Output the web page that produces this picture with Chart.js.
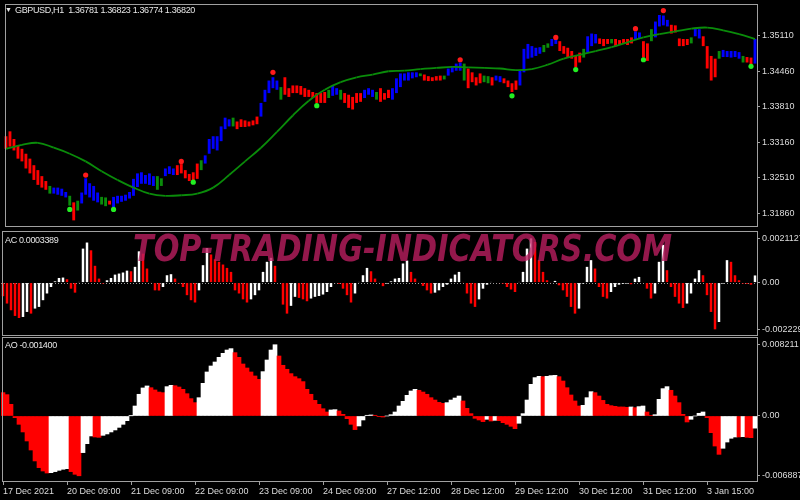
<!DOCTYPE html>
<html>
<head>
<meta charset="utf-8">
<title>GBPUSD,H1</title>
<script src="https://cdn.jsdelivr.net/npm/chart.js@4.4.1/dist/chart.umd.min.js"></script>
<style>
  html, body { margin: 0; background: #000; }
  #wrap { position: relative; width: 800px; height: 500px; overflow: hidden; background: #000; }
  #wrap canvas { position: absolute; left: 0; }
  .lbl { position: absolute; color: #e6e6e6; font: 9px/10px "Liberation Sans", Arial, sans-serif; white-space: pre; letter-spacing: -0.35px; }
  #mark { position: absolute; left: 133px; top: 229px; font: italic bold 38px/38px "DejaVu Sans", sans-serif;
          color: rgba(185, 30, 95, 0.8); white-space: nowrap; transform-origin: 0 0; }
</style>
</head>
<body>
<div id="wrap">
  <canvas id="priceChart" width="800" height="230" style="top:0"></canvas>
  <canvas id="acChart" width="800" height="106" style="top:230px"></canvas>
  <canvas id="aoChart" width="800" height="164" style="top:336px"></canvas>
  <div class="lbl" style="left:5px;top:5px;font-size:7px">▼</div>
  <div class="lbl" style="left:15px;top:5px">GBPUSD,H1  1.36781 1.36823 1.36774 1.36820</div>
  <div class="lbl" style="left:5px;top:235px">AC 0.0003389</div>
  <div class="lbl" style="left:5px;top:340px">AO -0.001400</div>
  <div id="mark">TOP-TRADING-INDICATORS.COM</div>
</div>
<script>
// time axis labels (bar index -> text)
const tickIndex = [0, 16, 32, 48, 64, 80, 96, 112, 128, 144, 160, 176];
const tickText = ["17 Dec 2021", "20 Dec 09:00", "21 Dec 09:00", "22 Dec 09:00", "23 Dec 09:00", "24 Dec 09:00",
  "27 Dec 12:00", "28 Dec 12:00", "29 Dec 12:00", "30 Dec 12:00", "31 Dec 12:00", "3 Jan 15:00"];

// price bars: top and bottom of each bar
const barHigh = [
  1.3327, 1.3336, 1.3322, 1.3310, 1.3304, 1.3295, 1.3286, 1.3274, 1.3265, 1.3254,
  1.3245, 1.3236, 1.3233, 1.3233, 1.3231, 1.3225, 1.3218, 1.3206, 1.3209, 1.3224,
  1.3250, 1.3241, 1.3236, 1.3224, 1.3216, 1.3215, 1.3209, 1.3216, 1.3218, 1.3218,
  1.3220, 1.3225, 1.3249, 1.3259, 1.3261, 1.3256, 1.3259, 1.3254, 1.3254, 1.3250,
  1.3268, 1.3272, 1.3268, 1.3274, 1.3276, 1.3265, 1.3258, 1.3261, 1.3277, 1.3283,
  1.3292, 1.3322, 1.3327, 1.3327, 1.3345, 1.3361, 1.3358, 1.3361, 1.3354, 1.3358,
  1.3356, 1.3354, 1.3356, 1.3363, 1.3388, 1.3412, 1.3429, 1.3435, 1.3429, 1.3417,
  1.3435, 1.3415, 1.3420, 1.3420, 1.3419, 1.3415, 1.3412, 1.3408, 1.3406, 1.3406,
  1.3408, 1.3412, 1.3419, 1.3415, 1.3412, 1.3406, 1.3403, 1.3399, 1.3406, 1.3406,
  1.3412, 1.3415, 1.3412, 1.3408, 1.3415, 1.3406, 1.3412, 1.3415, 1.3433, 1.3442,
  1.3442, 1.3444, 1.3444, 1.3444, 1.3442, 1.3440, 1.3437, 1.3435, 1.3437, 1.3438,
  1.3438, 1.3451, 1.3455, 1.3460, 1.3462, 1.3460, 1.3451, 1.3444, 1.3435, 1.3442,
  1.3438, 1.3437, 1.3435, 1.3438, 1.3437, 1.3433, 1.3429, 1.3424, 1.3429, 1.3447,
  1.3487, 1.3496, 1.3492, 1.3489, 1.3490, 1.3494, 1.3497, 1.3505, 1.3505, 1.3501,
  1.3492, 1.3489, 1.3483, 1.3474, 1.3480, 1.3487, 1.3510, 1.3515, 1.3514, 1.3506,
  1.3505, 1.3505, 1.3505, 1.3505, 1.3503, 1.3505, 1.3505, 1.3508, 1.3519, 1.3517,
  1.3501, 1.3497, 1.3523, 1.3537, 1.3549, 1.3548, 1.3540, 1.3531, 1.3530, 1.3506,
  1.3505, 1.3505, 1.3508, 1.3524, 1.3523, 1.3510, 1.3492, 1.3474, 1.3469, 1.3483,
  1.3485, 1.3483, 1.3483, 1.3483, 1.3481, 1.3474, 1.3472, 1.3471, 1.3505
];
const barLow = [
  1.3304, 1.3308, 1.3301, 1.3286, 1.3281, 1.3268, 1.3259, 1.3247, 1.3238, 1.3233,
  1.3229, 1.3222, 1.3222, 1.3220, 1.3218, 1.3215, 1.3200, 1.3173, 1.3191, 1.3204,
  1.3220, 1.3215, 1.3209, 1.3206, 1.3202, 1.3199, 1.3202, 1.3197, 1.3204, 1.3207,
  1.3209, 1.3213, 1.3218, 1.3234, 1.3240, 1.3240, 1.3238, 1.3236, 1.3229, 1.3236,
  1.3254, 1.3258, 1.3256, 1.3256, 1.3259, 1.3250, 1.3245, 1.3241, 1.3249, 1.3265,
  1.3277, 1.3295, 1.3304, 1.3301, 1.3318, 1.3340, 1.3345, 1.3345, 1.3340, 1.3344,
  1.3344, 1.3345, 1.3347, 1.3349, 1.3363, 1.3390, 1.3406, 1.3415, 1.3412, 1.3394,
  1.3403, 1.3399, 1.3406, 1.3406, 1.3403, 1.3399, 1.3399, 1.3397, 1.3388, 1.3388,
  1.3388, 1.3397, 1.3401, 1.3403, 1.3394, 1.3388, 1.3379, 1.3376, 1.3388, 1.3390,
  1.3397, 1.3403, 1.3399, 1.3394, 1.3390, 1.3394, 1.3397, 1.3394, 1.3406, 1.3417,
  1.3429, 1.3429, 1.3433, 1.3435, 1.3437, 1.3429, 1.3428, 1.3428, 1.3429, 1.3429,
  1.3431, 1.3438, 1.3444, 1.3447, 1.3447, 1.3429, 1.3415, 1.3426, 1.3420, 1.3424,
  1.3426, 1.3424, 1.3420, 1.3429, 1.3426, 1.3424, 1.3417, 1.3408, 1.3412, 1.3420,
  1.3444, 1.3469, 1.3471, 1.3474, 1.3478, 1.3481, 1.3489, 1.3492, 1.3496, 1.3483,
  1.3478, 1.3471, 1.3469, 1.3453, 1.3462, 1.3471, 1.3480, 1.3492, 1.3497, 1.3496,
  1.3492, 1.3496, 1.3497, 1.3492, 1.3494, 1.3496, 1.3494, 1.3497, 1.3505, 1.3505,
  1.3471, 1.3465, 1.3501, 1.3508, 1.3528, 1.3530, 1.3528, 1.3515, 1.3517, 1.3492,
  1.3492, 1.3494, 1.3497, 1.3510, 1.3506, 1.3492, 1.3451, 1.3429, 1.3435, 1.3469,
  1.3472, 1.3472, 1.3471, 1.3472, 1.3469, 1.3462, 1.3462, 1.3458, 1.3460
];
// r = bearish, b = bullish, g = neutral
const barTrend = (
  "rrrrrrrrrr" + "rgbbbbgrgb" + "bbbbggrbbb" + "bbbbbbbbgg" + "bbbrrrrrrg" +
  "bbbbbbbgrr" + "rrrrbbbbbg" + "rrrrrrrrrr" + "rgbbgrrrrr" + "bbbgrrrbbb" +
  "bbbbgrrrrr" + "gbbbbgrrrr" + "ggrbbrrrrb" + "bbbbbggbbr" + "rrrrrgbbbr" +
  "rrgrrrrrbb" + "rrgbbbbrrr" + "rrgbbrrrrg" + "bbbbbgrrb"
).split("");

// moving average, one value every maStep bars
const maStep = 4;
const maVals = [
  1.3304, 1.3311, 1.3315, 1.3306, 1.3295, 1.3281, 1.3263, 1.3247, 1.3233, 1.3222,
  1.3218, 1.3219, 1.3222, 1.3233, 1.3256, 1.3281, 1.3306, 1.3335, 1.3365, 1.3392,
  1.3412, 1.3426, 1.3435, 1.3440, 1.3446, 1.3447, 1.3450, 1.3452, 1.3454, 1.3453,
  1.3452, 1.3451, 1.3448, 1.3450, 1.3458, 1.3469, 1.3476, 1.3483, 1.3490, 1.3499,
  1.3508, 1.3514, 1.3519, 1.3524, 1.3526, 1.3521, 1.3514, 1.3505
];

// signal dots
const upSigIdx = [20, 44, 67, 114, 138, 158, 165];
const upSigVal = [1.3256, 1.3281, 1.3444, 1.3467, 1.3508, 1.3524, 1.3557];
const dnSigIdx = [16, 27, 47, 78, 127, 143, 160, 187];
const dnSigVal = [1.3193, 1.3193, 1.3243, 1.3383, 1.3401, 1.3449, 1.3467, 1.3455];

// Accelerator oscillator
const acVals = [
  -0.00065, -0.00100, -0.00132, -0.00159, -0.00169, -0.00164, -0.00140, -0.00148, -0.00124, -0.00116,
  -0.00084, -0.00052, -0.00021, 0.00006, 0.00022, 0.00024, 0.00016, -0.00029, -0.00048, 0.00003,
  0.00162, 0.00191, 0.00154, 0.00080, 0.00019, -0.00005, 0.00011, 0.00022, 0.00038, 0.00043,
  0.00048, 0.00057, 0.00054, 0.00075, 0.00149, 0.00138, 0.00067, 0.00003, -0.00037, -0.00038,
  -0.00021, 0.00035, 0.00040, 0.00019, -0.00005, -0.00021, -0.00060, -0.00084, -0.00095, -0.00037,
  0.00083, 0.00165, 0.00134, 0.00111, 0.00099, 0.00086, 0.00070, 0.00051, -0.00037, -0.00052,
  -0.00080, -0.00095, -0.00080, -0.00060, -0.00037, 0.00051, 0.00099, 0.00118, 0.00080, 0.00000,
  -0.00105, -0.00148, -0.00111, -0.00068, -0.00073, -0.00080, -0.00089, -0.00076, -0.00068, -0.00064,
  -0.00057, -0.00045, -0.00021, -0.00002, -0.00006, -0.00029, -0.00060, -0.00095, -0.00052, 0.00003,
  0.00035, 0.00070, 0.00054, 0.00019, 0.00003, -0.00017, -0.00005, 0.00006, 0.00019, 0.00022,
  0.00091, 0.00105, 0.00051, 0.00019, 0.00003, -0.00016, -0.00037, -0.00052, -0.00048, -0.00037,
  -0.00021, -0.00010, 0.00019, 0.00038, 0.00051, 0.00003, -0.00052, -0.00100, -0.00116, -0.00080,
  -0.00029, -0.00010, 0.00003, 0.00000, -0.00002, -0.00005, -0.00021, -0.00033, -0.00045, 0.00003,
  0.00051, 0.00162, 0.00211, 0.00194, 0.00107, 0.00051, 0.00011, 0.00003, 0.00008, -0.00013,
  -0.00037, -0.00068, -0.00116, -0.00148, -0.00124, -0.00005, 0.00075, 0.00107, 0.00067, -0.00021,
  -0.00068, -0.00076, -0.00045, -0.00021, -0.00010, -0.00006, -0.00005, -0.00008, 0.00019, 0.00027,
  0.00000, -0.00029, -0.00076, -0.00052, 0.00099, 0.00180, 0.00059, -0.00021, -0.00068, -0.00100,
  -0.00121, -0.00100, -0.00052, 0.00019, 0.00059, 0.00035, -0.00060, -0.00140, -0.00223, -0.00188,
  -0.00005, 0.00107, 0.00099, 0.00035, 0.00011, -0.00005, -0.00006, -0.00010, 0.00034
];

// Awesome oscillator
const aoVals = [
  0.00269, 0.00246, 0.00134, -0.00019, -0.00096, -0.00184, -0.00288, -0.00392, -0.00518, -0.00595,
  -0.00634, -0.00657, -0.00653, -0.00641, -0.00626, -0.00614, -0.00607, -0.00641, -0.00672, -0.00689,
  -0.00422, -0.00319, -0.00230, -0.00242, -0.00246, -0.00223, -0.00207, -0.00184, -0.00161, -0.00131,
  -0.00096, -0.00054, 0.00002, 0.00115, 0.00250, 0.00323, 0.00346, 0.00326, 0.00300, 0.00276,
  0.00269, 0.00338, 0.00353, 0.00349, 0.00334, 0.00307, 0.00257, 0.00200, 0.00154, 0.00211,
  0.00376, 0.00507, 0.00576, 0.00622, 0.00676, 0.00722, 0.00760, 0.00776, 0.00730, 0.00676,
  0.00599, 0.00553, 0.00507, 0.00461, 0.00422, 0.00511, 0.00645, 0.00760, 0.00821, 0.00691,
  0.00584, 0.00538, 0.00488, 0.00453, 0.00430, 0.00396, 0.00307, 0.00250, 0.00180, 0.00134,
  0.00084, 0.00046, 0.00069, 0.00073, 0.00058, 0.00019, -0.00031, -0.00096, -0.00157, -0.00115,
  -0.00046, 0.00008, 0.00012, 0.00008, -0.00004, -0.00012, 0.00000, 0.00015, 0.00046, 0.00115,
  0.00169, 0.00238, 0.00288, 0.00307, 0.00296, 0.00276, 0.00250, 0.00211, 0.00184, 0.00157,
  0.00146, 0.00154, 0.00184, 0.00207, 0.00230, 0.00173, 0.00088, 0.00027, -0.00027, -0.00046,
  -0.00065, -0.00038, -0.00058, -0.00050, -0.00054, -0.00077, -0.00096, -0.00119, -0.00146, -0.00084,
  0.00027, 0.00184, 0.00365, 0.00442, 0.00457, 0.00453, 0.00457, 0.00465, 0.00468, 0.00453,
  0.00403, 0.00326, 0.00242, 0.00173, 0.00115, 0.00123, 0.00211, 0.00280, 0.00269, 0.00230,
  0.00180, 0.00134, 0.00119, 0.00111, 0.00104, 0.00104, 0.00100, 0.00104, 0.00096, 0.00108,
  0.00115, 0.00046, 0.00008, 0.00015, 0.00192, 0.00315, 0.00338, 0.00296, 0.00230, 0.00154,
  0.00019, -0.00069, -0.00038, 0.00000, 0.00031, 0.00046, -0.00019, -0.00192, -0.00346, -0.00442,
  -0.00372, -0.00300, -0.00257, -0.00242, -0.00242, -0.00238, -0.00246, -0.00250, -0.00140
];

// axis labels on the right
const priceTicks = [1.3186, 1.3251, 1.3316, 1.3381, 1.3446, 1.3511];
const acTicks = [-0.0022292, 0, 0.0021127];
const aoTicks = [-0.006887, 0, 0.008211];

const FRAME = "#a0a0a0";
const TEXT = "#dcdcdc";
const FONT = { family: '"Liberation Sans", Arial, sans-serif', size: 9 };
const TREND_COL = { r: "#ff0000", b: "#0000ff", g: "#0a8c0a" };
const UP = "#ffffff", DOWN = "#ff0000";

const N = barHigh.length;
const labels = new Array(N).fill("");
tickIndex.forEach((k, j) => { labels[k] = tickText[j]; });

function sparse(idx, vals) {
  const a = new Array(N).fill(null);
  idx.forEach((k, j) => { a[k] = vals[j]; });
  return a;
}
const updown = vals => vals.map((v, i) => (i > 0 && v > vals[i - 1]) ? UP : DOWN);

const paneFrame = {
  id: "paneFrame",
  beforeDatasetsDraw(chart, args, opts) {
    if (!opts.zeroDots) return;
    const { ctx, chartArea: a } = chart;
    const y = Math.round(chart.scales.y.getPixelForValue(0)) + 0.5;
    ctx.save();
    ctx.strokeStyle = "#9a9a9a";
    ctx.setLineDash([1, 2]);
    ctx.beginPath(); ctx.moveTo(a.left, y); ctx.lineTo(a.right, y); ctx.stroke();
    ctx.restore();
  },
  afterDraw(chart) {
    const { ctx, chartArea: a } = chart;
    ctx.save();
    ctx.strokeStyle = FRAME;
    ctx.lineWidth = 1;
    ctx.strokeRect(a.left + 1.5, a.top + 0.5, a.right - a.left - 1, a.bottom - a.top);
    ctx.restore();
  }
};

function paneOptions(o) {
  return {
    responsive: false, animation: false, events: [],
    layout: { padding: o.pad },
    plugins: { legend: { display: false }, tooltip: { enabled: false }, paneFrame: { zeroDots: !!o.zeroDots } },
    scales: {
      x: {
        type: "category", offset: true, display: !!o.showX,
        afterBuildTicks: s => { s.ticks = s.ticks.filter(t => labels[t.value]); },
        afterFit: s => {
          s.height = o.showX ? 19 : 0;
          s.paddingLeft = 0; s.paddingRight = 0;
        },
        grid: { offset: false, drawOnChartArea: false, drawTicks: true, tickLength: 4, color: FRAME },
        border: { display: false },
        ticks: { color: TEXT, font: FONT, autoSkip: false, maxRotation: 0, align: "start", padding: 1 }
      },
      y: {
        position: "right", min: o.yMin, max: o.yMax,
        afterFit: s => { s.width = 43; s.paddingTop = 0; s.paddingBottom = 0; },
        afterBuildTicks: s => { s.ticks = o.yTicks.map(v => ({ value: v })); },
        grid: { drawOnChartArea: false, drawTicks: true, tickLength: 3, color: FRAME },
        border: { display: false },
        ticks: { color: TEXT, font: FONT, padding: 2, callback: o.yFmt }
      }
    }
  };
}

new Chart(document.getElementById("priceChart"), {
  type: "bar",
  data: {
    labels,
    datasets: [
      { type: "line", data: sparse(upSigIdx, upSigVal), showLine: false, pointRadius: 2.6,
        pointBackgroundColor: "#ff1a1a", pointBorderWidth: 0, order: 1 },
      { type: "line", data: sparse(dnSigIdx, dnSigVal), showLine: false, pointRadius: 2.6,
        pointBackgroundColor: "#22ee22", pointBorderWidth: 0, order: 1 },
      { type: "line", data: sparse(maVals.map((_, j) => j * maStep), maVals), spanGaps: true,
        borderWidth: 1.8, pointRadius: 0, tension: 0.4, order: 2,
        segment: { borderColor: ctx => ctx.p1.parsed.y > ctx.p0.parsed.y ? "#0a8c0a" : "#ff0000" } },
      { type: "bar", data: barHigh.map((h, i) => [barLow[i], h]),
        backgroundColor: barTrend.map(c => TREND_COL[c]), borderWidth: 0,
        barPercentage: 0.72, categoryPercentage: 1, order: 3 }
    ]
  },
  options: paneOptions({ pad: { left: 1, right: 0, top: 2, bottom: 1 },
    yMin: 1.31627, yMax: 1.35691, yTicks: priceTicks, yFmt: v => v.toFixed(5) }),
  plugins: [paneFrame]
});

new Chart(document.getElementById("acChart"), {
  type: "bar",
  data: {
    labels,
    datasets: [{ data: acVals, backgroundColor: updown(acVals), borderWidth: 0,
      barPercentage: 0.62, categoryPercentage: 1 }]
  },
  options: paneOptions({ pad: { left: 1, right: 0, top: 1, bottom: 1 }, zeroDots: true,
    yMin: -0.00250, yMax: 0.00246, yTicks: acTicks, yFmt: v => v === 0 ? "0.00" : String(v) }),
  plugins: [paneFrame]
});

new Chart(document.getElementById("aoChart"), {
  type: "bar",
  data: {
    labels,
    datasets: [{ data: aoVals, backgroundColor: updown(aoVals), borderWidth: 0,
      barPercentage: 1, categoryPercentage: 1 }]
  },
  options: paneOptions({ pad: { left: 1, right: 0, top: 1, bottom: 0 }, showX: true,
    yMin: -0.00749, yMax: 0.00910, yTicks: aoTicks, yFmt: v => v === 0 ? "0.00" : String(v) }),
  plugins: [paneFrame]
});

const mark = document.getElementById("mark");
mark.style.transform = "scaleX(" + (539 / mark.offsetWidth) + ")";
</script>
</body>
</html>
